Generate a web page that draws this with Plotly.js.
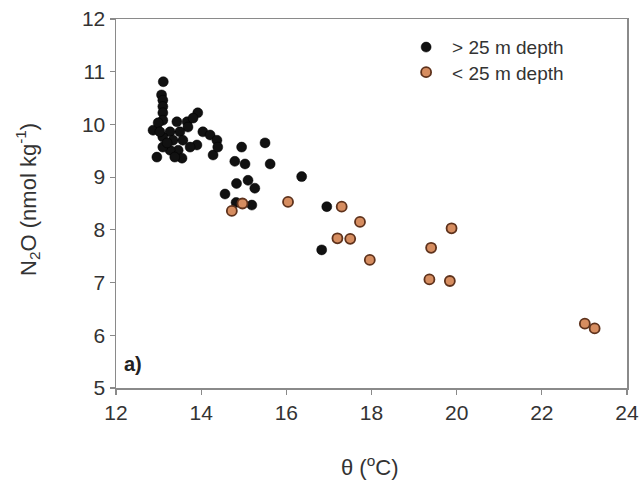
<!DOCTYPE html>
<html>
<head>
<meta charset="utf-8">
<script src="https://cdn.plot.ly/plotly-3.0.1.min.js"></script>
<style>html,body{margin:0;padding:0;background:#fff;}#chart{width:644px;height:486px;}</style>
</head>
<body>
<div id="chart"></div>
<script>
// > 25 m depth (black)
const deepTheta = [13.11,13.07,13.10,13.10,13.10,13.10,12.87,12.99,13.43,13.67,13.92,13.81,13.69,13.50,13.27,13.10,13.34,13.57,14.04,14.21,14.37,13.90,13.74,13.46,13.27,13.10,12.96,14.28,14.39,13.55,13.38,13.20,13.03,
  14.95,15.50,14.79,15.03,15.62,16.36,14.83,15.10,15.26,14.56,15.19,14.82,16.95,16.83];
const deepN2O = [10.81,10.56,10.46,10.34,10.22,10.08,9.89,10.03,10.05,10.05,10.22,10.12,9.95,9.86,9.86,9.76,9.70,9.70,9.86,9.80,9.70,9.61,9.57,9.51,9.51,9.57,9.38,9.42,9.57,9.36,9.38,9.65,9.86,
  9.57,9.65,9.30,9.25,9.25,9.01,8.88,8.94,8.79,8.68,8.47,8.52,8.44,7.62];
// < 25 m depth (orange)
const shallowTheta = [14.72,14.97,16.04,17.30,17.20,17.50,17.73,17.96,19.88,19.40,19.36,19.84,23.01,23.24];
const shallowN2O = [8.36,8.50,8.53,8.44,7.84,7.83,8.15,7.43,8.03,7.66,7.06,7.03,6.22,6.13];

const xTicks = [12,14,16,18,20,22,24];
const yTicks = [5,6,7,8,9,10,11,12];

const fam = 'Liberation Sans, Arial, sans-serif';

const traces = [
  {x: deepTheta, y: deepN2O, mode: 'markers', type: 'scatter', name: '> 25 m depth', legend: 'legend',
   marker: {color: '#111', size: 10, line: {color: '#000', width: 0.5}}},
  {x: shallowTheta, y: shallowN2O, mode: 'markers', type: 'scatter', name: '< 25 m depth', legend: 'legend2',
   marker: {color: '#d68d60', size: 10, line: {color: '#5e321c', width: 1.8}}}
];

const axisCommon = {showgrid: false, zeroline: false, showline: true, linecolor: '#8a8a8a', linewidth: 1.5,
  mirror: true, ticks: 'outside', ticklen: 5, tickcolor: '#8a8a8a', tickwidth: 1.2,
  tickfont: {family: fam, color: '#333', size: 21}};

const legendCommon = {xanchor: 'left', yanchor: 'top', bgcolor: 'rgba(0,0,0,0)', itemwidth: 42,
  font: {family: fam, size: 19, color: '#333'}};

const layout = {
  width: 644, height: 486,
  margin: {l: 116, r: 17, t: 19, b: 98},
  paper_bgcolor: '#fff', plot_bgcolor: '#fff',
  font: {family: fam, color: '#333'},
  showlegend: true,
  legend: Object.assign({}, legendCommon, {x: 0.556, y: 0.975}),
  legend2: Object.assign({}, legendCommon, {x: 0.556, y: 0.907}),
  xaxis: Object.assign({}, axisCommon, {range: [12, 24], tickvals: xTicks, ticktext: xTicks.map(String)}),
  yaxis: Object.assign({}, axisCommon, {range: [5, 12], tickvals: yTicks, ticktext: yTicks.map(String)}),
  annotations: [
    {text: 'θ (<sup>o</sup>C)', x: 0.497, y: -0.211, xref: 'paper', yref: 'paper', xanchor: 'center', yanchor: 'middle',
     showarrow: false, font: {family: fam, size: 22, color: '#333'}},
    {text: 'N<sub>2</sub>O (nmol kg<sup>-1</sup>)', x: -0.172, y: 0.51, xref: 'paper', yref: 'paper', xanchor: 'center', yanchor: 'middle',
     textangle: -90, showarrow: false, font: {family: fam, size: 22, color: '#333'}},
    {text: '<b>a)</b>', x: 0.012, y: 0.065, xref: 'paper', yref: 'paper', xanchor: 'left', yanchor: 'middle',
     showarrow: false, font: {family: fam, size: 20, color: '#222'}}
  ]
};

Plotly.newPlot('chart', traces, layout, {displayModeBar: false, staticPlot: true});
</script>
</body>
</html>
